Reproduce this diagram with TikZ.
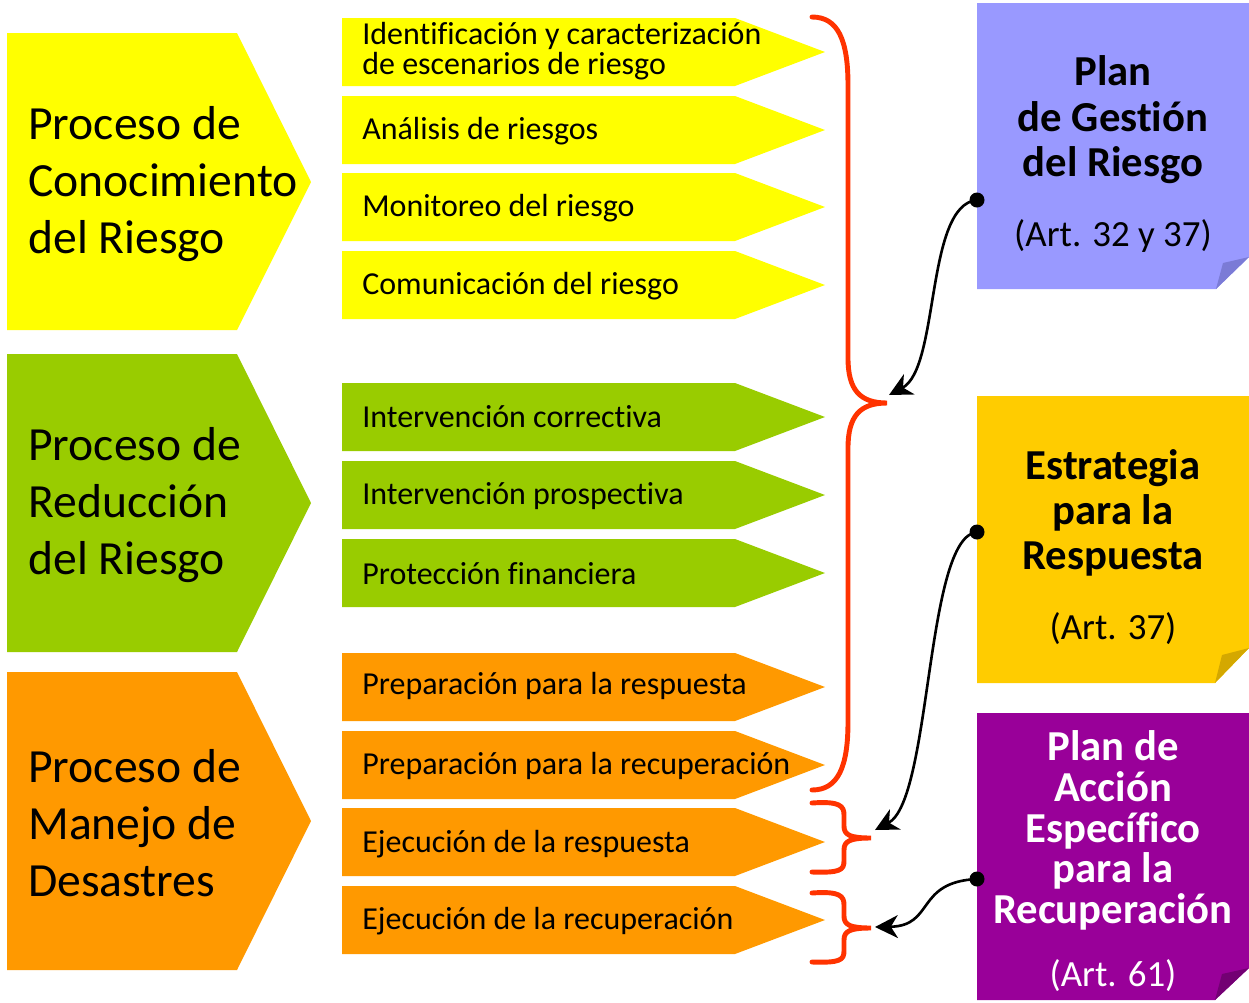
\documentclass[tikz,border=0pt]{standalone}
\usepackage{fontspec}
\setmainfont{Carlito}[Ligatures=NoCommon]
\usetikzlibrary{arrows.meta}
\definecolor{yel}{HTML}{FFFF00}
\definecolor{grn}{HTML}{99CC00}
\definecolor{org}{HTML}{FF9900}
\definecolor{bracered}{HTML}{FF3300}
\definecolor{planblue}{HTML}{9999FF}
\definecolor{planfold}{HTML}{7B7BD6}
\definecolor{estryel}{HTML}{FFCC00}
\definecolor{estrfold}{HTML}{D4A800}
\definecolor{paepur}{HTML}{990099}
\definecolor{paefold}{HTML}{730073}

\begin{document}
\begin{tikzpicture}[x=0.02cm,y=-0.02cm,
    big/.style={anchor=west,align=left,inner sep=0pt,font=\fontsize{27.1}{32.3}\selectfont},
    sm/.style={anchor=west,align=left,inner sep=0pt,font=\fontsize{18.2}{17.3}\selectfont},
    note/.style={align=center,inner sep=0pt,font=\fontsize{24.3}{25.8}\selectfont\bfseries},
    brc/.style={draw=bracered,line width=2.8pt,line cap=round},
    conn/.style={draw=black,line width=1.5pt,-{Stealth[length=13pt,width=13pt,inset=4pt]}}]
    \useasboundingbox (0,0) rectangle (1249,1002);

    \fill[yel] (7,33) -- (237,33) -- (311,182) -- (237,330) -- (7,330) -- cycle;
    \fill[grn] (7,354) -- (237,354) -- (311,503) -- (237,652) -- (7,652) -- cycle;
    \fill[org] (7,672) -- (237,672) -- (311,821) -- (237,970) -- (7,970) -- cycle;
    \node[big] (conoc) at (28,184) {Proceso de\\Conocimiento\\del Riesgo};
    \node[big] (reduc) at (28,505) {Proceso de\\Reducción\\del Riesgo};
    \node[big] (manejo) at (28,823) {Proceso de\\Manejo de\\Desastres};

    \fill[yel] (342,18) -- (735,18) -- (825,52) -- (735,86) -- (342,86) -- cycle;
    \fill[yel] (342,96) -- (735,96) -- (825,130) -- (735,164) -- (342,164) -- cycle;
    \fill[yel] (342,173) -- (735,173) -- (825,207) -- (735,241) -- (342,241) -- cycle;
    \fill[yel] (342,251) -- (735,251) -- (825,285) -- (735,319) -- (342,319) -- cycle;
    \fill[grn] (342,383) -- (735,383) -- (825,417) -- (735,451) -- (342,451) -- cycle;
    \fill[grn] (342,461) -- (735,461) -- (825,495) -- (735,529) -- (342,529) -- cycle;
    \fill[grn] (342,539) -- (735,539) -- (825,573) -- (735,607) -- (342,607) -- cycle;
    \fill[org] (342,653) -- (735,653) -- (825,687) -- (735,721) -- (342,721) -- cycle;
    \fill[org] (342,731) -- (735,731) -- (825,765) -- (735,799) -- (342,799) -- cycle;
    \fill[org] (342,808) -- (735,808) -- (825,842) -- (735,876) -- (342,876) -- cycle;
    \fill[org] (342,886) -- (735,886) -- (825,920) -- (735,954) -- (342,954) -- cycle;

    \node[sm] (ident) at (362,51) {Identificación y caracterización\\de escenarios de riesgo};
    \node[sm] (anal) at (362,131) {Análisis de riesgos};
    \node[sm] (monit) at (362,208) {Monitoreo del riesgo};
    \node[sm] (comun) at (362,286) {Comunicación del riesgo};
    \node[sm] (corr) at (362,417) {Intervención correctiva};
    \node[sm] (prosp) at (362,496) {Intervención prospectiva};
    \node[sm] (finan) at (362,574) {Protección financiera};
    \node[sm] (prepresp) at (362,686) {Preparación para la respuesta};
    \node[sm] (preprec) at (362,766) {Preparación para la recuperación};
    \node[sm] (ejresp) at (362,844) {Ejecución de la respuesta};
    \node[sm] (ejrec) at (362,921) {Ejecución de la recuperación};

    \draw[brc] (812,17) .. controls (838,17) and (848,40) .. (848,85) -- (848,358)
        .. controls (848,390) and (860,403) .. (887,403)
        .. controls (860,403) and (848,416) .. (848,448) -- (848,722)
        .. controls (848,767) and (838,790) .. (812,790);
    \draw[brc] (812,803) .. controls (840,801) and (844,806) .. (844,815) -- (844,826)
        .. controls (844,835) and (850,838) .. (871,838)
        .. controls (850,838) and (844,841) .. (844,850) -- (844,861)
        .. controls (844,870) and (840,873) .. (812,872);
    \draw[brc] (812,893) .. controls (840,891) and (844,896) .. (844,905) -- (844,916)
        .. controls (844,925) and (850,928) .. (871,928)
        .. controls (850,928) and (844,931) .. (844,940) -- (844,951)
        .. controls (844,960) and (840,963) .. (812,962);

    \fill[planblue] (977,3) -- (1249,3) -- (1249,257) -- (1216,289) -- (977,289) -- cycle;
    \fill[planfold] (1216,289) -- (1223,263) -- (1249,257) -- cycle;
    \fill[estryel] (977,396) -- (1249,396) -- (1249,648) -- (1215,683) -- (977,683) -- cycle;
    \fill[estrfold] (1215,683) -- (1222,655) -- (1249,648) -- cycle;
    \fill[paepur] (977,713) -- (1249,713) -- (1249,968) -- (1215,1000) -- (977,1000) -- cycle;
    \fill[paefold] (1215,1000) -- (1222,974) -- (1249,968) -- cycle;

    \node[note] (plan) at (1113,154) {Plan\\de Gestión\\del Riesgo\\[14pt]{\fontsize{21}{25.8}\selectfont\mdseries (Art. 32 y 37)}};
    \node[note] (estr) at (1113,547) {Estrategia\\para la\\Respuesta\\[14pt]{\fontsize{21}{25.8}\selectfont\mdseries (Art. 37)}};
    \node[note,text=white,font=\fontsize{24.3}{23.2}\selectfont\bfseries] (pae) at (1113,861)
        {Plan de\\Acción\\Específico\\para la\\Recuperación\\[12.5pt]{\fontsize{21}{23.2}\selectfont\mdseries (Art. 61)}};

    \coordinate (d1) at (977,200);
    \coordinate (t1) at (889,395);
    \coordinate (d2) at (977,532);
    \coordinate (t2) at (875,830);
    \coordinate (d3) at (977,879);
    \coordinate (t3) at (875,927);
    \draw[conn] (d1) .. controls (925,205) and (940,368) .. (t1);
    \draw[conn] (d2) .. controls (925,537) and (932,800) .. (t2);
    \draw[conn] (d3) .. controls (915,882) and (935,926) .. (t3);
    \fill (d1) circle[radius=0.15cm];
    \fill (d2) circle[radius=0.15cm];
    \fill (d3) circle[radius=0.15cm];
\end{tikzpicture}
\end{document}
